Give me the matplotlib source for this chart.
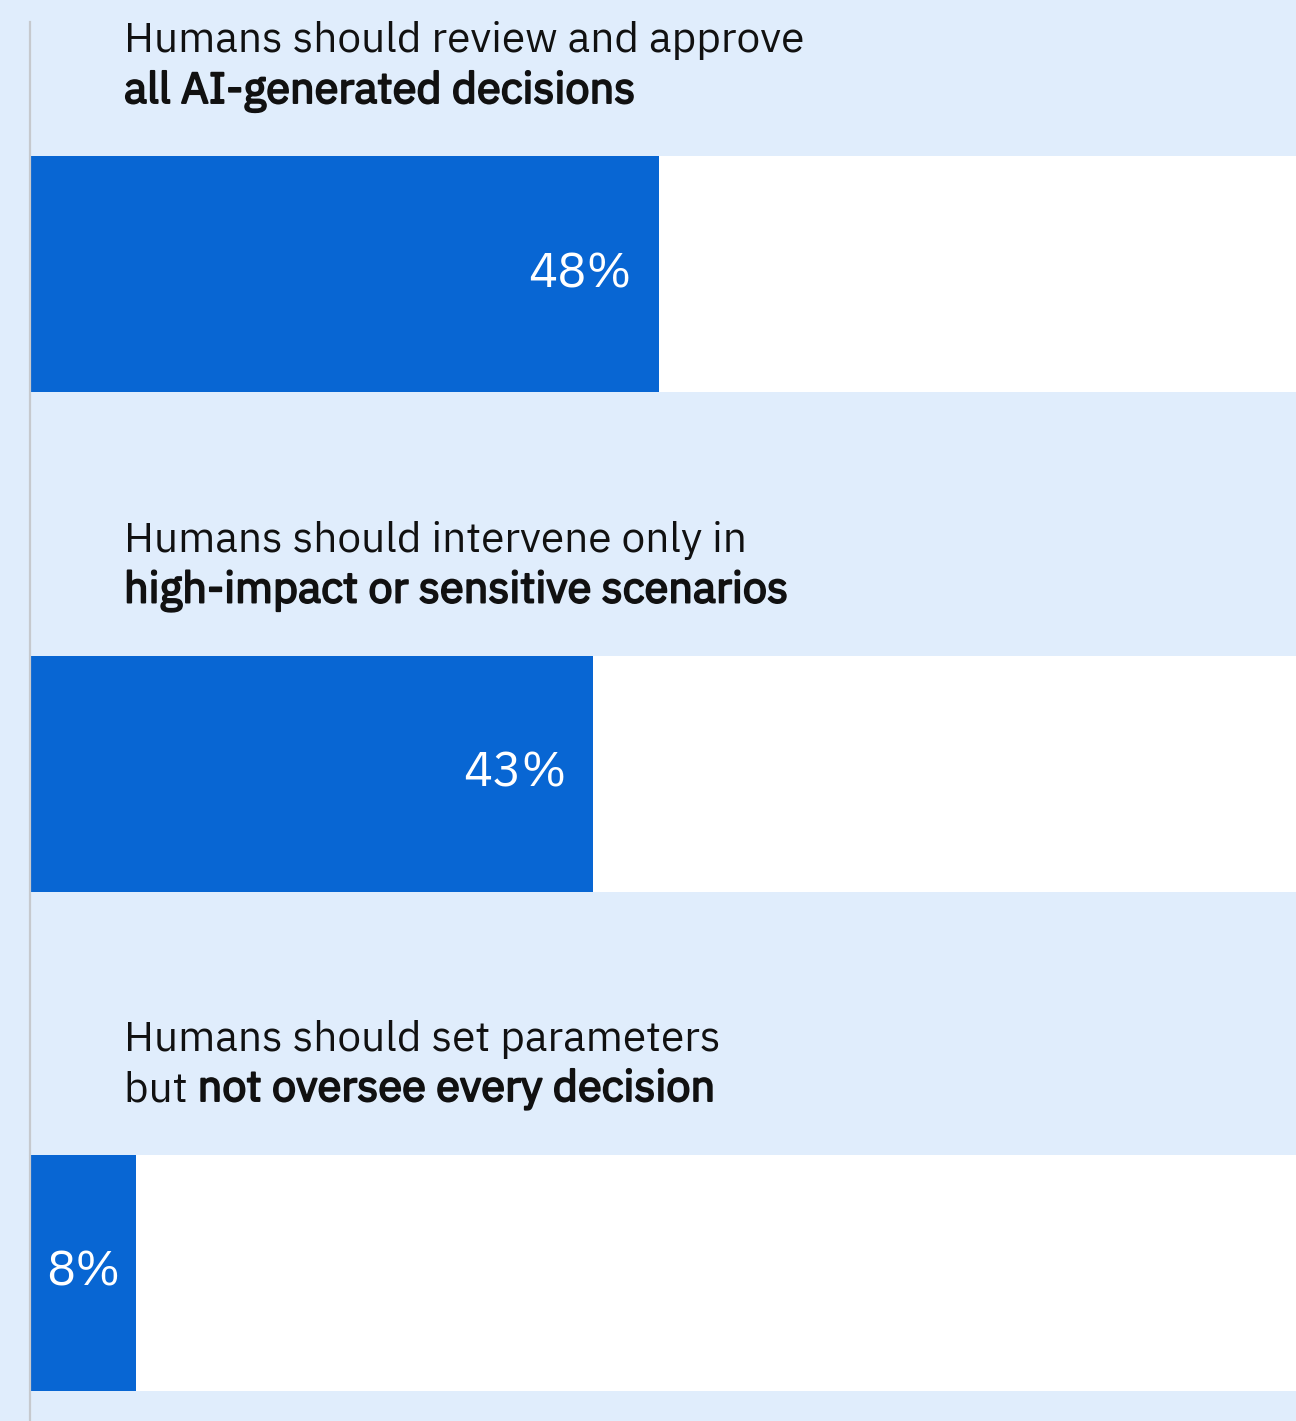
import matplotlib
matplotlib.use("Agg")
import matplotlib.pyplot as plt
import matplotlib.transforms as mtransforms
import matplotlib.patheffects as pe
from matplotlib import font_manager
from matplotlib.lines import Line2D

# Survey answers: how humans should oversee AI decisions
line1 = [
    "Humans should review and approve",
    "Humans should intervene only in",
    "Humans should set parameters",
]
line2_regular = ["", "", "but "]
line2_bold = [
    "all AI-generated decisions",
    "high-impact or sensitive scenarios",
    "not oversee every decision",
]
values = [48, 43, 8]

BG = "#E0EDFC"
BLUE = "#0866D3"
GRAY = "#C6C9CE"
INK = "#111111"
FONT = ["IBM Plex Sans", "Noto Sans", "DejaVu Sans"]

# use a real bold face when one is installed, otherwise thicken the regular one
bold_weights = [f.weight for f in font_manager.fontManager.ttflist
                if f.name == "IBM Plex Sans"]
has_bold = any(w in ("bold", 700, "semibold", 600) for w in bold_weights)
bold_kw = {"fontweight": "bold"}
if not has_bold:
    bold_kw["path_effects"] = [pe.withStroke(linewidth=1.4, foreground=INK)]

W, H, DPI = 1296, 1421, 100
fig = plt.figure(figsize=(W / DPI, H / DPI), dpi=DPI, facecolor=BG)

# value axis: 0 at the left edge of the bars, 100 % just past the right edge
left_px = 31
px_per_pct = 13.08
ax = fig.add_axes([left_px / W, 0, 1 - left_px / W, 1])
ax.set_facecolor(BG)
ax.set_xlim(0, (W - left_px) / px_per_pct)

n = len(values)
row_px = 499.5
first_center_px = 274
ax.set_ylim((H - first_center_px) / row_px, -first_center_px / row_px)
bar_h = 236 / row_px

idx = list(range(n))
# white track behind each bar, then the value bar itself
ax.barh(idx, [ax.get_xlim()[1]] * n, height=bar_h, color="white", lw=0)
bars = ax.barh(idx, values, height=bar_h, color=BLUE, lw=0)

for spine in ax.spines.values():
    spine.set_visible(False)
ax.set_xticks([])
ax.set_yticks([])

# value labels inside the bars
for i, v in enumerate(values):
    if v >= 20:
        tr = mtransforms.offset_copy(ax.transData, fig, x=-27, y=0, units="dots")
        ax.text(v, i, f"{v}%", transform=tr, ha="right", va="center",
                color="white", fontsize=35, family=FONT, fontweight="light")
    else:
        ax.text(v / 2, i, f"{v}%", ha="center", va="center",
                color="white", fontsize=35, family=FONT, fontweight="light")

# two-line category labels above each bar
text_dx = 93
line_gap = 51
half_bar_px = 118
fs = 30.5
fs_bold = 31.2
for i in range(n):
    base2 = -(half_bar_px + 53)
    tr2 = mtransforms.offset_copy(ax.transData, fig, x=text_dx, y=-base2, units="dots")
    tr1 = mtransforms.offset_copy(ax.transData, fig, x=text_dx, y=-base2 + line_gap, units="dots")
    ax.text(0, i, line1[i], transform=tr1, ha="left", va="baseline",
            fontsize=fs, family=FONT, color=INK)
    if line2_regular[i]:
        t = ax.text(0, i, line2_regular[i], transform=tr2, ha="left", va="baseline",
                    fontsize=fs, family=FONT, color=INK)
        ax.annotate(line2_bold[i], xy=(1, 0), xycoords=t, ha="left", va="bottom",
                    fontsize=fs_bold, family=FONT, color=INK, **bold_kw)
    else:
        ax.text(0, i, line2_bold[i], transform=tr2, ha="left", va="baseline",
                fontsize=fs_bold, family=FONT, color=INK, **bold_kw)

# thin vertical rule along the left edge
fig.add_artist(Line2D([29.5 / W, 29.5 / W], [0, 1 - 22 / H], transform=fig.transFigure,
                      color=GRAY, lw=1.6))

fig.savefig("out.png", dpi=DPI, facecolor=BG)
